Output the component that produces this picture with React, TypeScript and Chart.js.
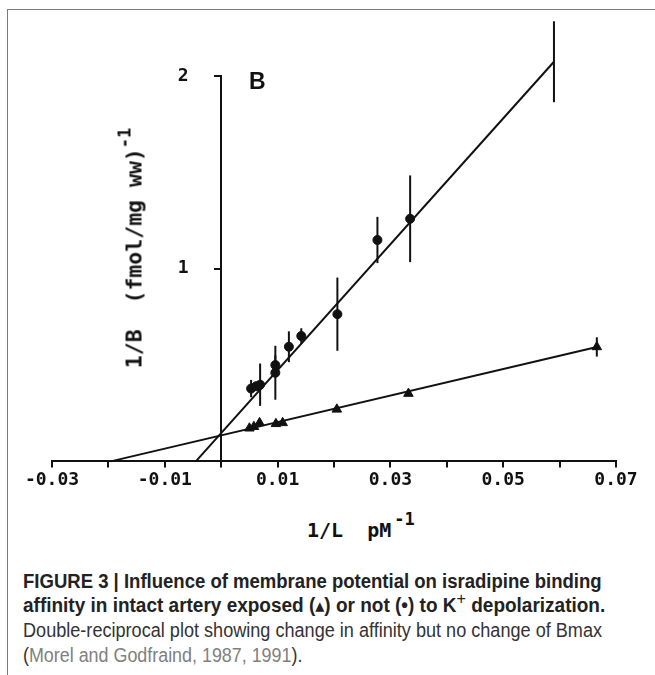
import React, { useEffect, useLayoutEffect, useRef, useState } from 'react';
import { Chart, registerables } from 'chart.js';

Chart.register(...registerables);

// ---- data ----
const xTickLabels = ['-0.03', '-0.01', '0.01', '0.03', '0.05', '0.07'];
const yTickLabels = ['1', '2'];

// filled circles (not depolarized)
const circleX = [0.0053, 0.0062, 0.0069, 0.0096, 0.0096, 0.012, 0.0142, 0.0206, 0.0277, 0.0335, 0.059];
const circleY = [0.378, 0.39, 0.398, 0.46, 0.5, 0.595, 0.651, 0.764, 1.149, 1.259, 2.074];
const circleErr = [0.045, 0, 0.11, 0.14, 0.05, 0.08, 0.04, 0.19, 0.12, 0.225, 0.21];

// triangles (K+ depolarized)
const triangleX = [0.005, 0.0058, 0.0068, 0.0097, 0.0109, 0.0205, 0.0332, 0.0666];
const triangleY = [0.172, 0.18, 0.2, 0.195, 0.2, 0.27, 0.352, 0.594];
const triangleErr = [0, 0, 0.02, 0, 0, 0, 0, 0.05];

// fitted lines (end points)
const circleFitX = [-0.0045, 0.059];
const circleFitY = [0, 2.074];
const triangleFitX = [-0.0196, 0.0666];
const triangleFitY = [0, 0.594];

const toPoints = (xs: number[], ys: number[]) => xs.map((x, i) => ({ x, y: ys[i] }));

const INK = '#111111';
const MONO = '"DejaVu Sans Mono", "Liberation Mono", monospace';
const SANS = '"Liberation Sans", Arial, "DejaVu Sans", sans-serif';

const errorBarPlugin = {
  id: 'errorBars',
  afterDatasetsDraw(chart: any) {
    const { ctx, scales } = chart;
    const xs = scales.x;
    const ys = scales.y;
    ctx.save();
    ctx.strokeStyle = INK;
    ctx.lineWidth = 2;
    chart.data.datasets.forEach((ds: any) => {
      const errs: number[] | undefined = ds.errors;
      if (!errs) return;
      ds.data.forEach((p: any, j: number) => {
        const e = errs[j];
        if (!e) return;
        const px = xs.getPixelForValue(p.x);
        ctx.beginPath();
        ctx.moveTo(px, ys.getPixelForValue(p.y - e));
        ctx.lineTo(px, ys.getPixelForValue(p.y + e));
        ctx.stroke();
      });
    });
    ctx.restore();
  },
};

function FitLine({ target, top, style, children }: any) {
  const ref = useRef<HTMLSpanElement>(null);
  const [k, setK] = useState(1);
  useLayoutEffect(() => {
    if (ref.current) {
      const w = ref.current.offsetWidth;
      if (w > 0) setK(target / w);
    }
  }, [target]);
  return (
    <div style={{ position: 'absolute', left: 23, top, whiteSpace: 'nowrap', lineHeight: '25px', fontSize: 20, fontFamily: SANS }}>
      <span
        ref={ref}
        style={{ display: 'inline-block', transform: `scaleX(${k})`, transformOrigin: 'left center', ...style }}
      >
        {children}
      </span>
    </div>
  );
}

export default function App() {
  const canvasRef = useRef<HTMLCanvasElement>(null);

  useEffect(() => {
    if (!canvasRef.current) return;
    const tickFont = { family: MONO, size: 18, weight: 'bold' as const };
    const chart = new Chart(canvasRef.current, {
      type: 'scatter',
      data: {
        datasets: [
          {
            data: toPoints(circleFitX, circleFitY),
            showLine: true,
            borderColor: INK,
            borderWidth: 2,
            pointRadius: 0,
            clip: false as any,
          },
          {
            data: toPoints(triangleFitX, triangleFitY),
            showLine: true,
            borderColor: INK,
            borderWidth: 2,
            pointRadius: 0,
            clip: false as any,
          },
          {
            data: toPoints(circleX, circleY),
            errors: circleErr,
            pointStyle: 'circle',
            pointRadius: 4.5,
            backgroundColor: INK,
            borderColor: INK,
            borderWidth: 1,
            clip: false as any,
          } as any,
          {
            data: toPoints(triangleX, triangleY),
            errors: triangleErr,
            pointStyle: 'triangle',
            pointRadius: 5.5,
            backgroundColor: INK,
            borderColor: INK,
            borderWidth: 1,
            clip: false as any,
          } as any,
        ],
      },
      options: {
        animation: false,
        responsive: false,
        maintainAspectRatio: false,
        layout: { padding: { left: 52, right: 39, top: 76, bottom: 7 } },
        plugins: { legend: { display: false }, tooltip: { enabled: false } },
        scales: {
          x: {
            type: 'linear',
            position: 'bottom',
            min: -0.03,
            max: 0.07,
            ticks: {
              stepSize: 0.01,
              autoSkip: false,
              maxRotation: 0,
              padding: 2,
              color: INK,
              font: tickFont,
              callback: (v: any) => {
                const k = Math.round(Number(v) * 100);
                const lbl = xTickLabels.find((l) => Math.round(parseFloat(l) * 100) === k);
                return lbl ?? '';
              },
            },
            grid: { drawOnChartArea: false, drawTicks: true, tickLength: 6, color: INK, lineWidth: 2 },
            border: { display: true, color: INK, width: 2 },
          },
          y: {
            type: 'linear',
            position: { x: 0 } as any,
            min: 0,
            max: 2,
            afterFit: (s: any) => {
              s.width = 0;
            },
            ticks: {
              stepSize: 1,
              color: INK,
              font: tickFont,
              // labels of a value-positioned axis are right-aligned on the axis line;
              // trailing spaces keep them clear of it as in the reference
              callback: (v: any) => {
                const lbl = yTickLabels.find((l) => Number(l) === Number(v));
                return lbl ? lbl + '   ' : '';
              },
            },
            grid: { drawOnChartArea: false, drawTicks: true, tickLength: 6, color: INK, lineWidth: 2 },
            border: { display: true, color: INK, width: 2 },
          },
        },
      } as any,
      plugins: [errorBarPlugin],
    });
    return () => chart.destroy();
  }, []);

  return (
    <div style={{ position: 'fixed', left: 0, top: 0, width: 655, height: 675, background: '#fff', overflow: 'hidden' }}>
      <div
        style={{
          position: 'absolute',
          left: 7,
          top: 9,
          right: -20,
          bottom: -20,
          borderTop: '1.5px solid #7a7a7a',
          borderLeft: '1.5px solid #7a7a7a',
        }}
      />
      <canvas
        ref={canvasRef}
        width={655}
        height={500}
        style={{ position: 'absolute', left: 0, top: 0, width: 655, height: 500 }}
      />
      {/* panel letter */}
      <div style={{ position: 'absolute', left: 249, top: 69, fontFamily: SANS, fontWeight: 'bold', fontSize: 23, color: INK, lineHeight: '24px' }}>
        B
      </div>
      {/* y axis title */}
      <div
        style={{
          position: 'absolute',
          left: 135,
          top: 248,
          transform: 'translate(-50%, -50%) rotate(-90deg)',
          whiteSpace: 'pre',
          fontFamily: MONO,
          fontWeight: 'bold',
          fontSize: 21.5,
          color: INK,
          lineHeight: '24px',
        }}
      >
        {'1/B  (fmol/mg ww)'}
        <span style={{ fontSize: 17, position: 'relative', top: -11 }}>-1</span>
      </div>
      {/* x axis title */}
      <div
        style={{
          position: 'absolute',
          left: 307,
          top: 520,
          whiteSpace: 'pre',
          fontFamily: MONO,
          fontWeight: 'bold',
          fontSize: 20,
          color: INK,
          lineHeight: '20px',
        }}
      >
        {'1/L  pM'}
        <span style={{ fontSize: 17, position: 'relative', top: -12, marginLeft: 3 }}>-1</span>
      </div>
      {/* caption */}
      <FitLine target={579} top={569} style={{ fontWeight: 'bold', color: '#222' }}>
        FIGURE 3 | Influence of membrane potential on isradipine binding
      </FitLine>
      <FitLine target={582} top={593} style={{ fontWeight: 'bold', color: '#222' }}>
        affinity in intact artery exposed (<span style={{ fontSize: 19, fontFamily: '"DejaVu Sans", sans-serif' }}>▴</span>) or not (<span style={{ fontSize: 20 }}>•</span>) to K
        <span style={{ fontWeight: 'normal', fontSize: 17, position: 'relative', top: -8 }}>+</span> depolarization.
      </FitLine>
      <FitLine target={579} top={618} style={{ color: '#333' }}>
        Double-reciprocal plot showing change in affinity but no change of Bmax
      </FitLine>
      <FitLine target={279} top={643} style={{ color: '#333' }}>
        (<span style={{ color: '#808080' }}>Morel and Godfraind, 1987, 1991</span>).
      </FitLine>
    </div>
  );
}
